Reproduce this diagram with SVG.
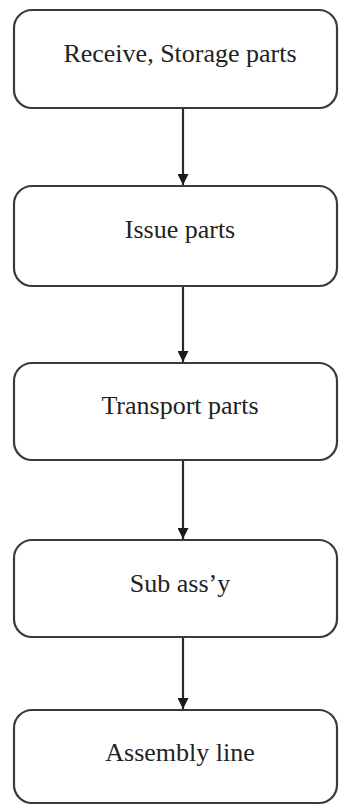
<svg xmlns="http://www.w3.org/2000/svg" width="340" height="805" viewBox="0 0 340 805">
<style>
.box{fill:#fff;stroke:#3a3a3a;stroke-width:2.2}
.lbl{font-family:"Liberation Serif","Times New Roman",serif;font-size:26px;fill:#222;text-anchor:middle}
.edge{stroke:#2a2a2a;stroke-width:2.2;fill:none}
</style>
<defs>
<marker id="arr" viewBox="0 0 10 10" refX="10" refY="5" markerWidth="5" markerHeight="5" markerUnits="strokeWidth" orient="auto">
<path d="M0,0 L10,5 L0,10 Z" fill="#1a1a1a"/>
</marker>
</defs>
<rect width="340" height="805" fill="#fff"/>
<g id="connectors">
<line class="edge" x1="183" y1="108" x2="183" y2="185" marker-end="url(#arr)"/>
<line class="edge" x1="183" y1="286" x2="183" y2="362" marker-end="url(#arr)"/>
<line class="edge" x1="183" y1="460" x2="183" y2="539" marker-end="url(#arr)"/>
<line class="edge" x1="183" y1="637" x2="183" y2="709" marker-end="url(#arr)"/>
</g>
<g id="n1">
<rect class="box" x="14" y="10" width="323" height="98" rx="18"/>
<text class="lbl" x="180" y="62">Receive, Storage parts</text>
</g>
<g id="n2">
<rect class="box" x="14" y="186" width="323" height="100" rx="18"/>
<text class="lbl" x="180" y="238">Issue parts</text>
</g>
<g id="n3">
<rect class="box" x="14" y="363" width="323" height="97" rx="18"/>
<text class="lbl" x="180" y="414">Transport parts</text>
</g>
<g id="n4">
<rect class="box" x="14" y="540" width="323" height="97" rx="18"/>
<text class="lbl" x="180" y="592">Sub ass’y</text>
</g>
<g id="n5">
<rect class="box" x="14" y="710" width="323" height="93" rx="18"/>
<text class="lbl" x="180" y="761">Assembly line</text>
</g>
</svg>
